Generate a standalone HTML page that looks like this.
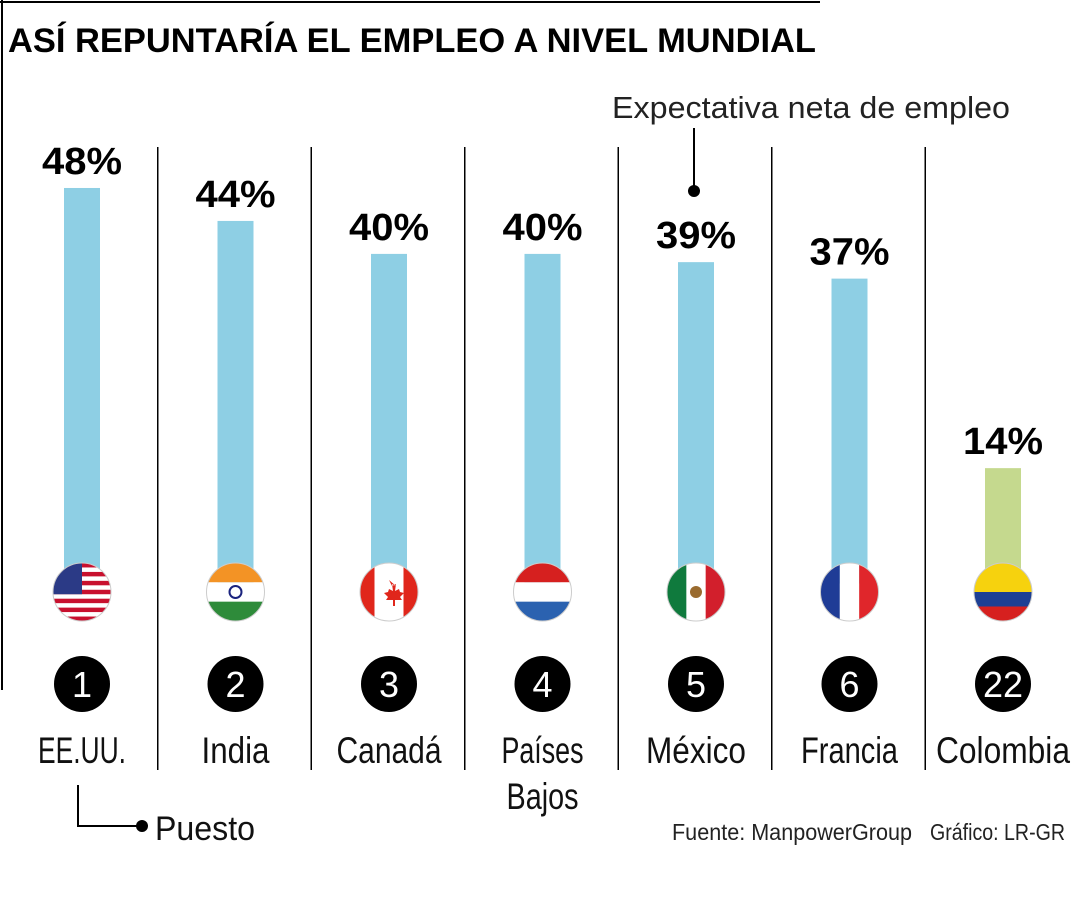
<!DOCTYPE html>
<html><head><meta charset="utf-8"><style>
html,body{margin:0;padding:0;background:#fff;}
svg{display:block;font-family:"Liberation Sans Narrow","Liberation Sans",sans-serif;}
</style></head><body>
<svg id="chart" width="1080" height="900" viewBox="0 0 1080 900">
<line x1="0" y1="2" x2="820" y2="2" stroke="#000" stroke-width="2"/>
<line x1="2" y1="0" x2="2" y2="690" stroke="#000" stroke-width="2"/>
<text x="8" y="52" font-size="34" font-weight="bold" textLength="808" lengthAdjust="spacingAndGlyphs">ASÍ REPUNTARÍA EL EMPLEO A NIVEL MUNDIAL</text>
<text x="612" y="118" font-size="31" fill="#222" textLength="398" lengthAdjust="spacingAndGlyphs">Expectativa neta de empleo</text>
<line x1="694" y1="128" x2="694" y2="190" stroke="#000" stroke-width="2"/>
<circle cx="694" cy="191" r="6" fill="#000"/>
<g id="marks"></g>
<polyline points="78,785 78,826 140,826" fill="none" stroke="#000" stroke-width="2"/>
<circle cx="142" cy="826" r="6" fill="#000"/>
<text x="155" y="840" font-size="34" fill="#111" textLength="100" lengthAdjust="spacingAndGlyphs">Puesto</text>
<text x="672" y="840" font-size="23" fill="#222" textLength="240" lengthAdjust="spacingAndGlyphs">Fuente: ManpowerGroup</text>
<text x="930" y="840" font-size="23" fill="#222" textLength="135" lengthAdjust="spacingAndGlyphs">Gráfico: LR-GR</text>
</svg>
<script>
const countries=["EE.UU.","India","Canadá","Países Bajos","México","Francia","Colombia"];
const values=[48,44,40,40,39,37,14];
const ranks=["1","2","3","4","5","6","22"];
const labelW={"EE.UU.":88,"India":68,"Canadá":105,"Países":82,"Bajos":72,"México":100,"Francia":97,"Colombia":134};
const NS="http://www.w3.org/2000/svg";
const g=document.getElementById('marks');
const x0=82,step=153.5,base=583.5,ppu=8.24;
const xs=i=>x0+i*step;
const ys=v=>base-v*ppu;
function el(t,a){const e=document.createElementNS(NS,t);for(const k in a)e.setAttribute(k,a[k]);g.appendChild(e);return e;}
function flag(i,cx,cy){
  const r=29,id='clip'+i;
  const cp=el('clipPath',{id:id});const c=document.createElementNS(NS,'circle');c.setAttribute('cx',cx);c.setAttribute('cy',cy);c.setAttribute('r',r);cp.appendChild(c);
  const fg=el('g',{'clip-path':'url(#'+id+')'});
  
  
  const R=(x,y,w,h,f)=>{const e=document.createElementNS(NS,'rect');e.setAttribute('x',x);e.setAttribute('y',y);e.setAttribute('width',w);e.setAttribute('height',h);e.setAttribute('fill',f);fg.appendChild(e);};
  const X=cx-r,Y=cy-r,S=2*r;
  if(i==0){for(let k=0;k<13;k++)R(X,Y+k*S/13,S,S/13+0.5,k%2?'#fff':'#c8102e');R(X,Y,S*0.5,S*7/13,'#2b3a86');}
  else if(i==1){R(X,Y,S,S/3,'#f39325');R(X,Y+S/3,S,S/3,'#fff');R(X,Y+2*S/3,S,S/3,'#2e8b3a');const c2=document.createElementNS(NS,'circle');c2.setAttribute('cx',cx);c2.setAttribute('cy',cy);c2.setAttribute('r',6);c2.setAttribute('fill','none');c2.setAttribute('stroke','#1a237e');c2.setAttribute('stroke-width','2');fg.appendChild(c2);}
  else if(i==2){R(X,Y,S,S,'#fff');R(X,Y,S*0.25,S,'#e0261b');R(X+S*0.75,Y,S*0.25,S,'#e0261b');const p=document.createElementNS(NS,'path');p.setAttribute('d',`M${cx},${cy-12}l3,6l4,-2l-1,7l4,-2l1,3l4,1l-4,4l2,3l-7,0l0,6l-2,0l0,-6l-7,0l2,-3l-4,-4l4,-1l1,-3l4,2l-1,-7l4,2z`);p.setAttribute('fill','#e0261b');fg.appendChild(p);}
  else if(i==3){R(X,Y,S,S/3,'#d6201f');R(X,Y+S/3,S,S/3,'#fff');R(X,Y+2*S/3,S,S/3,'#2b62b0');}
  else if(i==4){R(X,Y,S,S,'#fff');R(X,Y,S/3,S,'#0f7a3d');R(X+2*S/3,Y,S/3,S,'#d21f2c');const c2=document.createElementNS(NS,'circle');c2.setAttribute('cx',cx);c2.setAttribute('cy',cy);c2.setAttribute('r',6);c2.setAttribute('fill','#9a6b2f');fg.appendChild(c2);}
  else if(i==5){R(X,Y,S/3,S,'#1f3c96');R(X+S/3,Y,S/3,S,'#fff');R(X+2*S/3,Y,S/3,S,'#e0262b');}
  else {R(X,Y,S,S/2,'#f6d20e');R(X,Y+S/2,S,S/4,'#1d3f94');R(X,Y+3*S/4,S,S/4,'#d6201f');}
  el('circle',{cx:cx,cy:cy,r:r,fill:'none',stroke:'#ccc','stroke-width':1});
}
for(let i=0;i<countries.length-1;i++){
  const l=el('line',{x1:xs(i)+step/2-1,y1:147,x2:xs(i)+step/2-1,y2:770,stroke:'#000','stroke-width':1.5});
  
  
}
values.forEach((v,i)=>{
  const cx=xs(i),top=ys(v);
  const b=el('rect',{x:cx-18,y:top,width:36,height:base-top,fill:i==6?'#c5d98e':'#8ecfe4'});
  
  
  const t=el('text',{x:cx,y:top-14,'text-anchor':'middle','font-size':38,'font-weight':'bold',textLength:80,lengthAdjust:'spacingAndGlyphs'});
  t.textContent=v+'%';
  
  
  flag(i,cx,592);
  const rc=el('circle',{cx:cx,cy:684,r:28,fill:'#000'});
  
  
  const rt=el('text',{x:cx,y:697,'text-anchor':'middle','font-size':36,fill:'#fff'});
  rt.textContent=ranks[i];
  
  
  const parts=countries[i]=='Países Bajos'?['Países','Bajos']:[countries[i]];
  parts.forEach((p,k)=>{
    const ct=el('text',{x:cx,y:763+k*46,'text-anchor':'middle','font-size':37,fill:'#111',textLength:labelW[p],lengthAdjust:'spacingAndGlyphs'});
    ct.textContent=p;
    
    
  });
});
</script>
</body></html>
